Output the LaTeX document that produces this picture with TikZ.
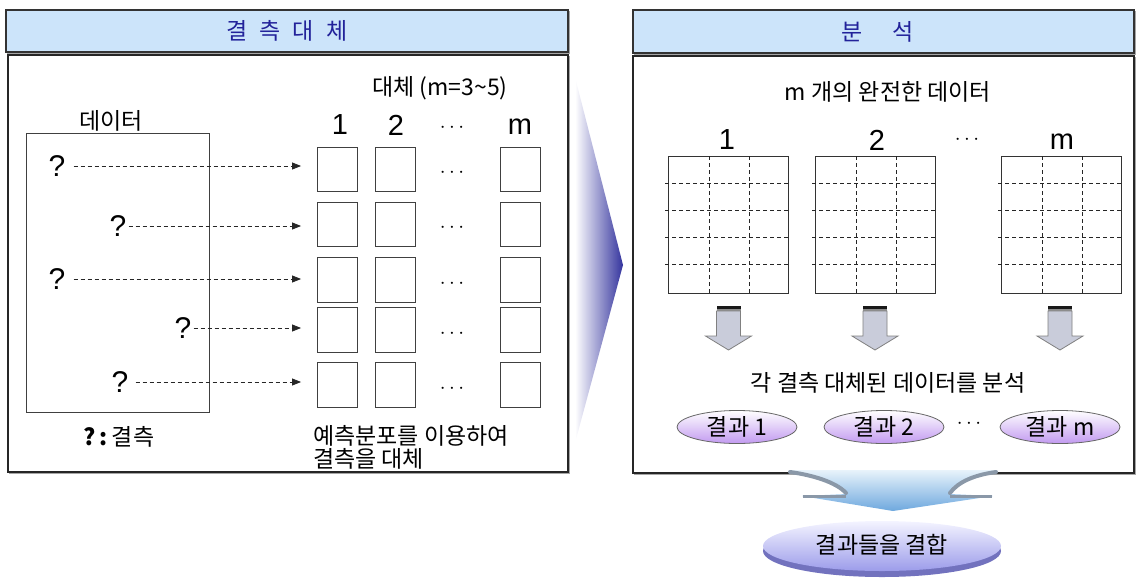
\documentclass[tikz,border=0pt]{standalone}
\usepackage{fontspec}
\setmainfont{Noto Sans CJK KR}
\newfontfamily\latinfont{Liberation Sans}
\usetikzlibrary{arrows.meta,shapes.geometric}
\definecolor{titlefill}{HTML}{CCE4FA}
\definecolor{titleink}{HTML}{22229A}
\definecolor{chevblue}{HTML}{34349E}
\definecolor{resviolet}{HTML}{C29AF0}
\definecolor{arrowfill}{HTML}{C9CCDA}
\definecolor{bigtop}{HTML}{E8F3FB}
\definecolor{bigbot}{HTML}{6EA8DE}
\definecolor{wing}{HTML}{8A98A8}
\definecolor{fintop}{HTML}{F4F4FF}
\definecolor{finbot}{HTML}{9C9CEA}
\definecolor{finedge}{HTML}{7272BE}
\begin{document}
\begin{tikzpicture}[x=1pt,y=-1pt,
  titlebar/.style={draw=black!80,line width=1.3pt,fill=titlefill,inner sep=0pt},
  panelframe/.style={draw=black!85,line width=1.3pt,fill=white},
  titletext/.style={text=titleink,font=\fontsize{23}{26}\selectfont},
  lbl/.style={font=\fontsize{23}{26}\selectfont,inner sep=0pt},
  numlbl/.style={font=\latinfont\fontsize{29}{30}\selectfont,inner sep=0pt},
  qmark/.style={font=\latinfont\fontsize{30}{30}\selectfont,inner sep=1pt},
  cell/.style={draw=black!75,line width=0.9pt,minimum width=40pt,minimum height=44pt,inner sep=0pt},
  dots/.style={font=\fontsize{20}{22}\selectfont,inner sep=0pt},
  darr/.style={draw=black!85,line width=0.9pt,dash pattern=on 4pt off 3pt,-{Triangle[length=9pt,width=7pt]}},
  datafr/.style={draw=black!75,line width=0.9pt,minimum width=183pt,minimum height=279pt,inner sep=0pt},
  gridfr/.style={draw=black!80,line width=0.9pt,minimum width=120pt,minimum height=137pt,inner sep=0pt},
  gridln/.style={draw=black!85,line width=0.8pt,dash pattern=on 4pt off 3pt},
  result/.style={ellipse,draw=black!60,line width=0.8pt,top color=white,bottom color=resviolet,minimum width=120pt,minimum height=33pt,inner sep=0pt,font=\fontsize{23}{26}\selectfont},
  blockarr/.style={fill=arrowfill,draw=black!50,line width=0.8pt},
  downarr/.pic={
    \filldraw[blockarr] (-12,5) -- (12,5) -- (12,30) -- (23,30) -- (0,44) -- (-23,30) -- (-12,30) -- cycle;
    \fill[black!90] (-12,0) rectangle (12,3);
    \fill[black!45] (-12,3) rectangle (12,5);
  }
]
\useasboundingbox (0,0) rectangle (1136,582);

% ---------- left panel ----------
\draw[black!35,line width=1.3pt] (9.5,56.5) rectangle (569.5,473.5);
\draw[panelframe] (8,55) rectangle (568,472);
\draw[black!35,line width=1.3pt] (7.5,11.5) rectangle (569.5,53.5);
\node[titlebar,minimum width=562pt,minimum height=42pt] (t1) at (287,31) {};
\node[titletext] (t1txt) at (287,31) {결\hspace{12pt}측\hspace{12pt}대\hspace{12pt}체};

\node[lbl] (sublbl) at (440,88) {대체 (m=3\textasciitilde5)};
\node[lbl] (datalbl) at (111,121) {데이터};
\node[datafr] (databox) at (117.5,272.5) {};

\node[numlbl] (n1) at (340,125) {1};
\node[numlbl] (n2) at (396,125) {2};
\node[dots] (nd) at (452,128) {$\cdots$};
\node[numlbl] (nm) at (520,127) {m};

% cells
\foreach \r/\y/\h in {1/169/44,2/224/44,3/279.5/45,4/329.5/45,5/384.5/45}{
  \node[cell,minimum height=\h pt] (s\r a) at (337.5,\y) {};
  \node[cell,minimum height=\h pt] (s\r b) at (395,\y) {};
  \node[dots] (s\r d) at (452,\y+4) {$\cdots$};
  \node[cell,minimum height=\h pt] (s\r m) at (520.5,\y) {};
}

% missing marks
\node[qmark] (q1) at (57,166) {?};
\node[qmark] (q2) at (118,226) {?};
\node[qmark] (q3) at (57,279) {?};
\node[qmark] (q4) at (183,328) {?};
\node[qmark] (q5) at (120,382) {?};
\draw[darr,shorten <=7pt,shorten >=16pt] (q1.east) -- (q1.east -| s1a.west);
\draw[darr,shorten <=1pt,shorten >=16pt] (q2.east) -- (q2.east -| s2a.west);
\draw[darr,shorten <=7pt,shorten >=16pt] (q3.east) -- (q3.east -| s3a.west);
\draw[darr,shorten <=1pt,shorten >=16pt] (q4.east) -- (q4.east -| s4a.west);
\draw[darr,shorten <=6pt,shorten >=16pt] (q5.east) -- (q5.east -| s5a.west);

\node[lbl] (legend) at (119,437) {{\bfseries ?\,:}\,결측};
\node[lbl,align=left,anchor=north west,font=\fontsize{23}{23}\selectfont] (note) at (313,425) {예측분포를 이용하여\\결측을 대체};

% ---------- chevron ----------
\shade[left color=white,right color=chevblue] (575,77) -- (623,265) -- (575,443) -- cycle;

% ---------- right panel ----------
\draw[black!35,line width=1.3pt] (634.5,57.5) rectangle (1135.5,474.5);
\draw[panelframe] (633,56) rectangle (1134,473);
\draw[black!35,line width=1.3pt] (634.5,11.5) rectangle (1135.5,54.5);
\node[titlebar,minimum width=501pt,minimum height=43pt] (t2) at (883.5,31.5) {};
\node[titletext] (t2txt) at (878,31.5) {분\hspace{30pt}석};

\node[lbl] (complbl) at (888,92) {m 개의 완전한 데이터};
\node[numlbl] (g1n) at (727,140) {1};
\node[numlbl] (g2n) at (877,140) {2};
\node[dots] (gdn) at (967,140) {$\cdots$};
\node[numlbl] (gmn) at (1062,142) {m};

\foreach \g/\L in {1/668,2/815,m/1001}{
  \node[gridfr] (g\g) at (\L+60,224.5) {};
  \foreach \dx in {41,81}{
    \draw[gridln] (\L+\dx,156) -- (\L+\dx,293);
  }
  \foreach \yy in {183,210,237,264}{
    \draw[gridln] (\L-3,\yy) -- (\L+120,\yy);
  }
}

\pic at (728.5,306) {downarr};
\pic at (875,306) {downarr};
\pic at (1060,306) {downarr};

\node[lbl] (analbl) at (888,383) {각 결측 대체된 데이터를 분석};
\node[result] (r1) at (737,427) {결과 1};
\node[result] (r2) at (884,427) {결과 2};
\node[dots] (rd) at (969,424) {$\cdots$};
\node[result] (rm) at (1060,427) {결과 m};

% ---------- combining arrow ----------
\shade[top color=bigtop,bottom color=bigbot]
  (788,470) -- (998,470) .. controls (975,474) and (958,482) .. (950,494)
  -- (993,496) -- (893,511) -- (802,496) -- (847,494)
  .. controls (838,482) and (812,474) .. (788,470) -- cycle;
\draw[wing,line width=4pt,line cap=round] (790,472) .. controls (812,475) and (836,482) .. (846,493);
\draw[wing,line width=4pt,line cap=round] (996,472) .. controls (974,475) and (958,482) .. (950,493);
\draw[wing,line width=3pt] (803,496) -- (846,496);
\draw[wing,line width=3pt] (950,496) -- (992,496);

% ---------- final result ----------
\fill[finedge] (882,551) ellipse (119pt and 26pt);
\shade[top color=fintop,bottom color=finbot] (882,546) ellipse (119pt and 25pt);
\node[lbl] (fin) at (882,545) {결과들을 결합};
\end{tikzpicture}
\end{document}
